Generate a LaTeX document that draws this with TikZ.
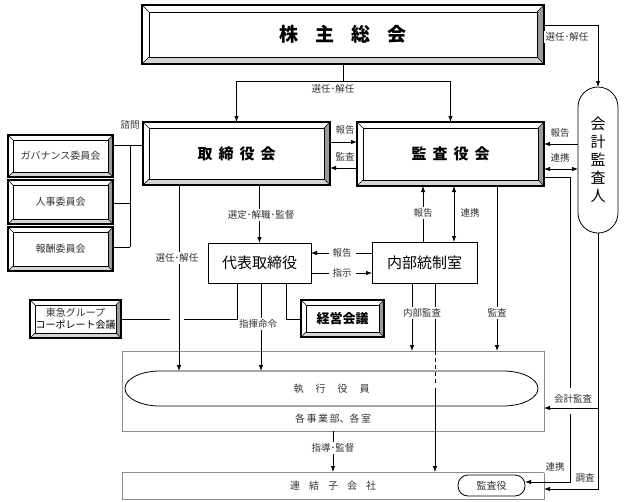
\documentclass[tikz,border=0pt]{standalone}
\usepackage{fontspec}
\setmainfont{Noto Sans CJK JP}
\usetikzlibrary{arrows.meta,calc}
\definecolor{labc}{HTML}{333333}
\definecolor{bevR}{HTML}{9A9A9A}
\definecolor{bevB}{HTML}{D4D4D4}
\definecolor{frameg}{HTML}{8C8C8C}
\newcommand\fs[1]{\fontsize{#1}{#1}\selectfont}
% name, x1, y1, x2, y2, bevel, content
\newcommand\bevbox[7]{%
 \fill[bevR] (#4,#3) -- (#4,#5) -- ({#4-#6},{#5-#6}) -- ({#4-#6},{#3+#6}) -- cycle;
 \fill[bevB] (#2,#5) -- (#4,#5) -- ({#4-#6},{#5-#6}) -- ({#2+#6},{#5-#6}) -- cycle;
 \draw[line width=0.6pt] ({#2+#6},{#3+#6}) rectangle ({#4-#6},{#5-#6});
 \draw[line width=0.6pt] (#2,#3) -- ({#2+#6},{#3+#6}) (#4,#3) -- ({#4-#6},{#3+#6})
   (#2,#5) -- ({#2+#6},{#5-#6}) (#4,#5) -- ({#4-#6},{#5-#6});
 \node[draw, line width=1.3pt, minimum width={(#4-#2)*1pt}, minimum height={(#5-#3)*1pt},
   inner sep=0pt, outer sep=0pt, anchor=north west] (#1) at (#2,#3) {};
 \node[align=center] (#1t) at (#1.center) {#7};
}
\begin{document}
\begin{tikzpicture}[x=1pt,y=-1pt,line width=0.8pt,
  arr/.style={-{Latex[length=6pt,width=4.5pt]}},
  darr/.style={{Latex[length=6pt,width=4.5pt]}-{Latex[length=6pt,width=4.5pt]}},
  lbl/.style={font=\fs{9.5}, text=labc, inner sep=1.5pt, fill=white},
  plainbox/.style={draw, inner sep=0pt, outer sep=0pt, anchor=north west}]
\fill[white] (0,0) rectangle (624,501);
\useasboundingbox (0,0) rectangle (624,501);

% ---------- boxes ----------
\bevbox{kabu}{142}{5}{544}{64}{7}{\fs{19}\bfseries 株\hspace{17pt}主\hspace{17pt}総\hspace{17pt}会}
\bevbox{tori}{143}{122}{330}{185}{6}{\fs{15}\bfseries 取\hspace{6pt}締\hspace{6pt}役\hspace{6pt}会}
\bevbox{kansa}{357}{122}{544}{186}{6}{\fs{15}\bfseries 監\hspace{6pt}査\hspace{6pt}役\hspace{6pt}会}
\bevbox{gov}{8}{135}{113}{177}{5}{\fs{10}\color{labc}ガバナンス委員会}
\bevbox{jinji}{8}{180}{113}{224}{5}{\fs{10}\color{labc}人事委員会}
\bevbox{hoshu}{8}{227}{113}{271}{5}{\fs{10}\color{labc}報酬委員会}
\bevbox{keiei}{301}{300}{384}{337}{5}{\fs{13}\bfseries 経営会議}
\bevbox{tokyu}{30}{300}{121}{338}{5}{\fontsize{10}{12.5}\selectfont\color{labc}東急グループ\\コーポレート会議}

\node[plainbox, minimum width=103, minimum height=40, font=\fs{15}] (daihyo) at (208,243) {代表取締役};
\node[plainbox, minimum width=105, minimum height=41, font=\fs{15}] (naibu) at (372,242) {内部統制室};
\node[plainbox, rounded corners=20pt, minimum width=40, minimum height=146, align=center,
  font=\fontsize{15}{18}\selectfont] (kaikei) at (578,87) {会\\計\\監\\査\\人};

\node[plainbox, draw=frameg, minimum width=422, minimum height=80] (jigyo) at (122,351) {};
\node[font=\fs{10}, text=labc] (jigyot) at (333,419) {各\hspace{1.5pt}事\hspace{1.5pt}業\hspace{1.5pt}部、各\hspace{1.5pt}室};
\node[inner sep=0pt, outer sep=0pt, minimum width=413, minimum height=35, anchor=north west,
  font=\fs{10}, text=labc] (yakuin) at (125,371) {執\hspace{12pt}行\hspace{12pt}役\hspace{12pt}員};
\draw (160,371) -- (503,371) arc[start angle=-90,end angle=90,x radius=35,y radius=17.5]
  -- (160,406) arc[start angle=90,end angle=270,x radius=35,y radius=17.5] -- cycle;
\node[plainbox, draw=frameg, minimum width=422, minimum height=27] (renketsu) at (122,472) {};
\node[font=\fs{10}, text=labc] (renketsut) at (333,486) {連\hspace{9pt}結\hspace{9pt}子\hspace{9pt}会\hspace{9pt}社};
\node[plainbox, rounded corners=10pt, minimum width=67, minimum height=21, font=\fs{10}, text=labc] (kansayaku) at (458,475) {監査役};

% ---------- connectors ----------
\coordinate (kj) at ($(kabu.south)+(0,17)$);
\draw (kabu.south) -- (kj);
\draw (kj -| tori.north) -- (kj -| kansa.north);
\draw[arr] (kj -| tori.north) -- (tori.north);
\draw[arr] (kj -| kansa.north) -- (kansa.north);

\draw[arr] (kabu.east |- 0,25) -| (kaikei.north);

\draw[arr] (kaikei.west |- 0,144) -- (kansa.east |- 0,144);
\draw[darr] (kaikei.west |- 0,169) -- (kansa.east |- 0,169);
\draw[arr] (tori.east |- 0,142) -- (kansa.west |- 0,142);
\draw[arr] (kansa.west |- 0,168) -- (tori.east |- 0,168);

\draw (kansa.east |- 0,177) -| (570,388);
\draw[arr] (570,414) |- (kansayaku.east |- 0,482);
\draw[arr] (kaikei.south) |- (renketsu.east |- 0,489);
\draw[arr] (kaikei.south |- 0,408) -- (jigyo.east |- 0,408);

\draw (gov.east |- 0,145) -- (tori.west |- 0,145);
\draw (130,145) -- (130,247);
\draw (jinji.east |- 0,203) -- (130,203);
\draw (hoshu.east |- 0,247) -- (130,247);

\draw[arr] (tori.south -| 179,0) -- (yakuin.north -| 179,0);
\draw[arr] (tori.south -| daihyo.north) -- (daihyo.north);

\draw[arr] (naibu.west |- 0,253) -- (daihyo.east |- 0,253);
\draw[arr] (daihyo.east |- 0,273) -- (naibu.west |- 0,273);

\draw[arr] (naibu.north -| 423,0) -- (kansa.south -| 423,0);
\draw[darr] (naibu.north -| 454,0) -- (kansa.south -| 454,0);
\draw[arr] (kansa.south -| 497,0) -- (jigyo.north -| 497,0);
\draw[arr] (naibu.south -| 412,0) -- (jigyo.north -| 412,0);
\draw (naibu.south -| 435,0) -- (jigyo.north -| 435,0);
\draw[dash pattern=on 4pt off 3pt] (jigyo.north -| 435,0) -- (435,385);
\draw[arr] (435,388) -- (renketsu.north -| 435,0);

\draw (daihyo.south -| 237,0) |- (184,319);
\draw (170,319) -- (tokyu.east |- 0,319);
\draw[arr] (daihyo.south -| 261,0) -- (yakuin.north -| 261,0);
\draw (daihyo.south -| 286,0) |- (keiei.west |- 0,319);

\draw[arr] (jigyo.south -| 333,0) -- (renketsu.north -| 333,0);

% ---------- labels ----------
\node[lbl] (l1) at (333,89) {選任･解任};
\node[lbl] (l2) at (567,37) {選任･解任};
\node[lbl] (l3) at (345,130) {報告};
\node[lbl] (l4) at (345,157) {監査};
\node[lbl] (l5) at (560,133) {報告};
\node[lbl] (l6) at (560,158) {連携};
\node[lbl] (l7) at (130,125) {諮問};
\node[lbl] (l8) at (177,258) {選任･解任};
\node[lbl] (l9) at (261,215) {選定･解職･監督};
\node[lbl, inner xsep=4pt] (l10) at (342,253) {報告};
\node[lbl, inner xsep=4pt] (l11) at (342,273) {指示};
\node[lbl] (l12) at (423,213) {報告};
\node[lbl] (l13) at (470,213) {連携};
\node[lbl] (l14) at (258,324) {指揮命令};
\node[lbl] (l15) at (422,313) {内部監査};
\node[lbl] (l16) at (497,313) {監査};
\node[lbl] (l17) at (333,448) {指導･監督};
\node[lbl] (l18) at (573,399) {会計監査};
\node[lbl] (l19) at (555,467) {連携};
\node[lbl] (l20) at (585,478) {調査};
\end{tikzpicture}
\end{document}
